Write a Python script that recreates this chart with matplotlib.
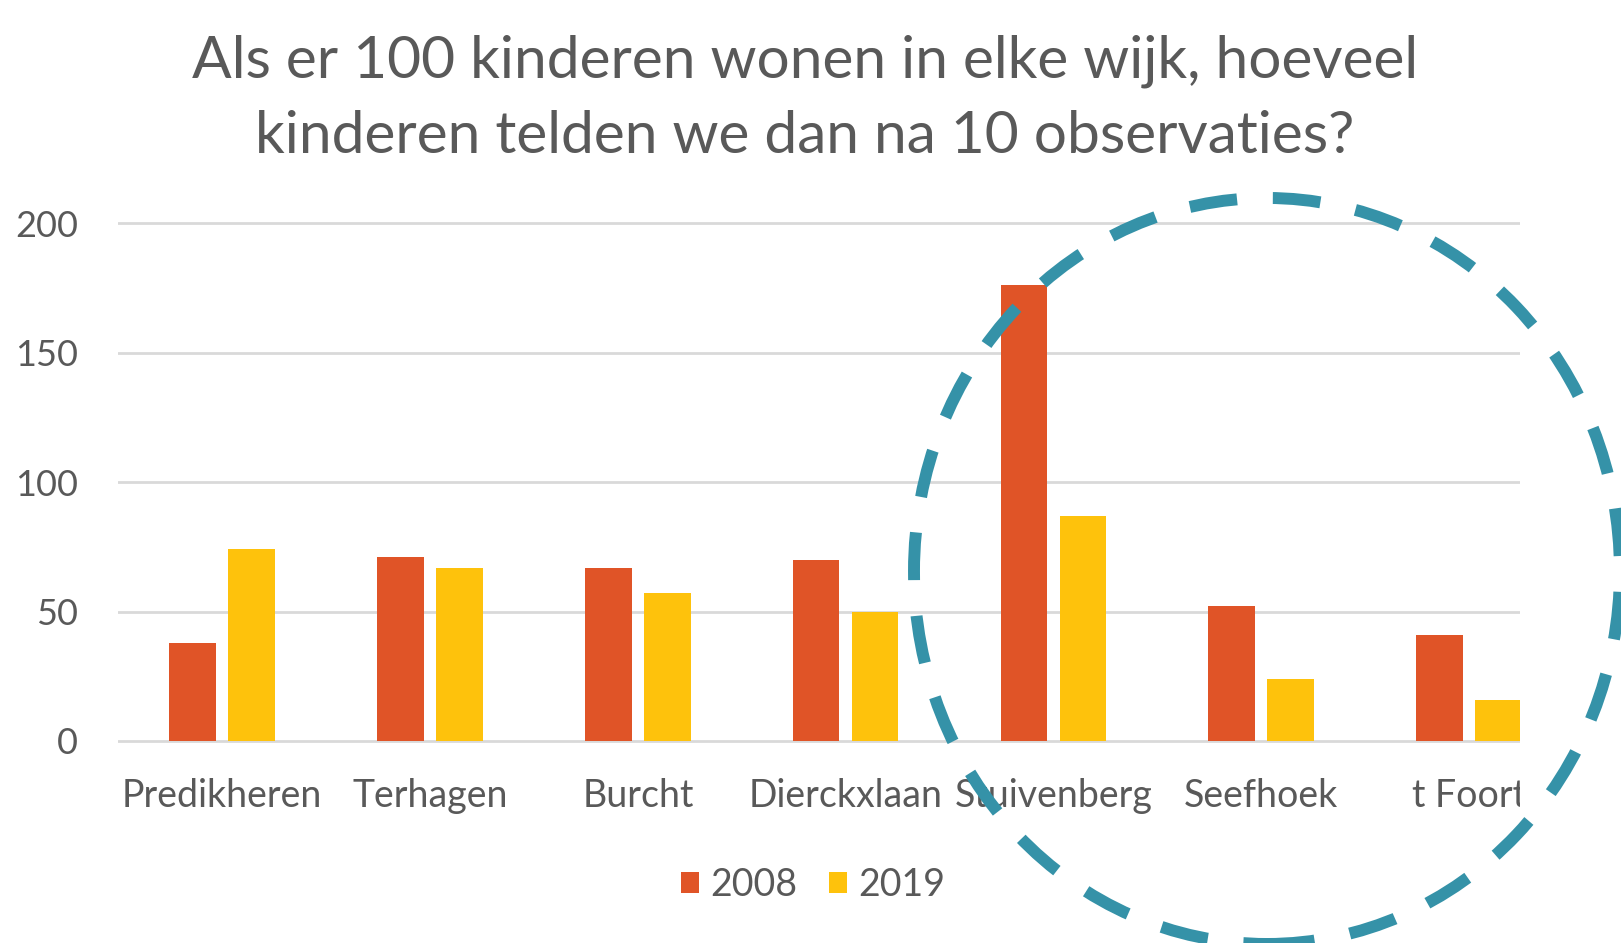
import numpy as np
import matplotlib
matplotlib.use("Agg")
import matplotlib.pyplot as plt
from matplotlib.patches import Ellipse, Rectangle

# data
wijken = ["Predikheren", "Terhagen", "Burcht", "Dierckxlaan",
          "Stuivenberg", "Seefhoek", "t Foort"]
tellingen_2008 = [38, 71, 67, 70, 176, 52, 41]
tellingen_2019 = [74, 67, 57, 50, 87, 24, 16]
jaren = ["2008", "2019"]
y_ticks = [0, 50, 100, 150, 200]

oranje = "#E05427"
geel = "#FEC20C"
grijs_tekst = "#595959"
grijs_lijn = "#D9D9D9"
blauw = "#3592A8"

plt.rcParams['font.family'] = ['Lato', 'DejaVu Sans']

fig = plt.figure(figsize=(16.21, 9.43), dpi=100)
ax = fig.add_axes([0.0730, 0.2101, 0.8645, 0.5668])

x = np.arange(len(wijken))
w = 0.224
ax.bar(x - 0.142, tellingen_2008, w, color=oranje, label=jaren[0], zorder=3)
ax.bar(x + 0.142, tellingen_2019, w, color=geel, label=jaren[1], zorder=3)

ax.set_xlim(-0.5, 6.244)
ax.set_ylim(-1.5, 205)
ax.set_yticks(y_ticks)
ax.set_xticks(x)
ax.set_xticklabels(wijken)
ax.yaxis.grid(True, color=grijs_lijn, linewidth=2, zorder=0)
for s in ax.spines.values():
    s.set_visible(False)
ax.tick_params(axis='both', length=0, labelcolor=grijs_tekst)
ax.tick_params(axis='y', pad=29, labelsize=26)
ax.tick_params(axis='x', pad=24, labelsize=27)

# the rightmost label is cut at the edge of the plot area
clip = Rectangle((0, 0), 0.9375, 1, transform=fig.transFigure)
for lbl in ax.get_xticklabels():
    lbl.set_clip_path(clip)

ax.legend(loc='center', bbox_to_anchor=(0.5016, 0.0615),
          bbox_transform=fig.transFigure, ncol=2, frameon=False,
          fontsize=27, handlelength=0.47, handleheight=0.47,
          handletextpad=0.3, columnspacing=0.85, labelcolor=grijs_tekst)

fig.text(0.4966, 1 - 77.5 / 943, "Als er 100 kinderen wonen in elke wijk, hoeveel",
         ha='center', va='baseline', fontsize=42.2, color=grijs_tekst)
fig.text(0.4966, 1 - 153 / 943, "kinderen telden we dan na 10 observaties?",
         ha='center', va='baseline', fontsize=42.2, color=grijs_tekst)

# dashed circle drawn over the chart
fig.add_artist(Ellipse((0.7816, 0.3945), 0.4355, 0.7911,
                       transform=fig.transFigure, fill=False,
                       edgecolor=blauw, linewidth=8.6,
                       linestyle=(0, (4.0, 3.0)), zorder=10))

fig.savefig("out.png", dpi=100)
